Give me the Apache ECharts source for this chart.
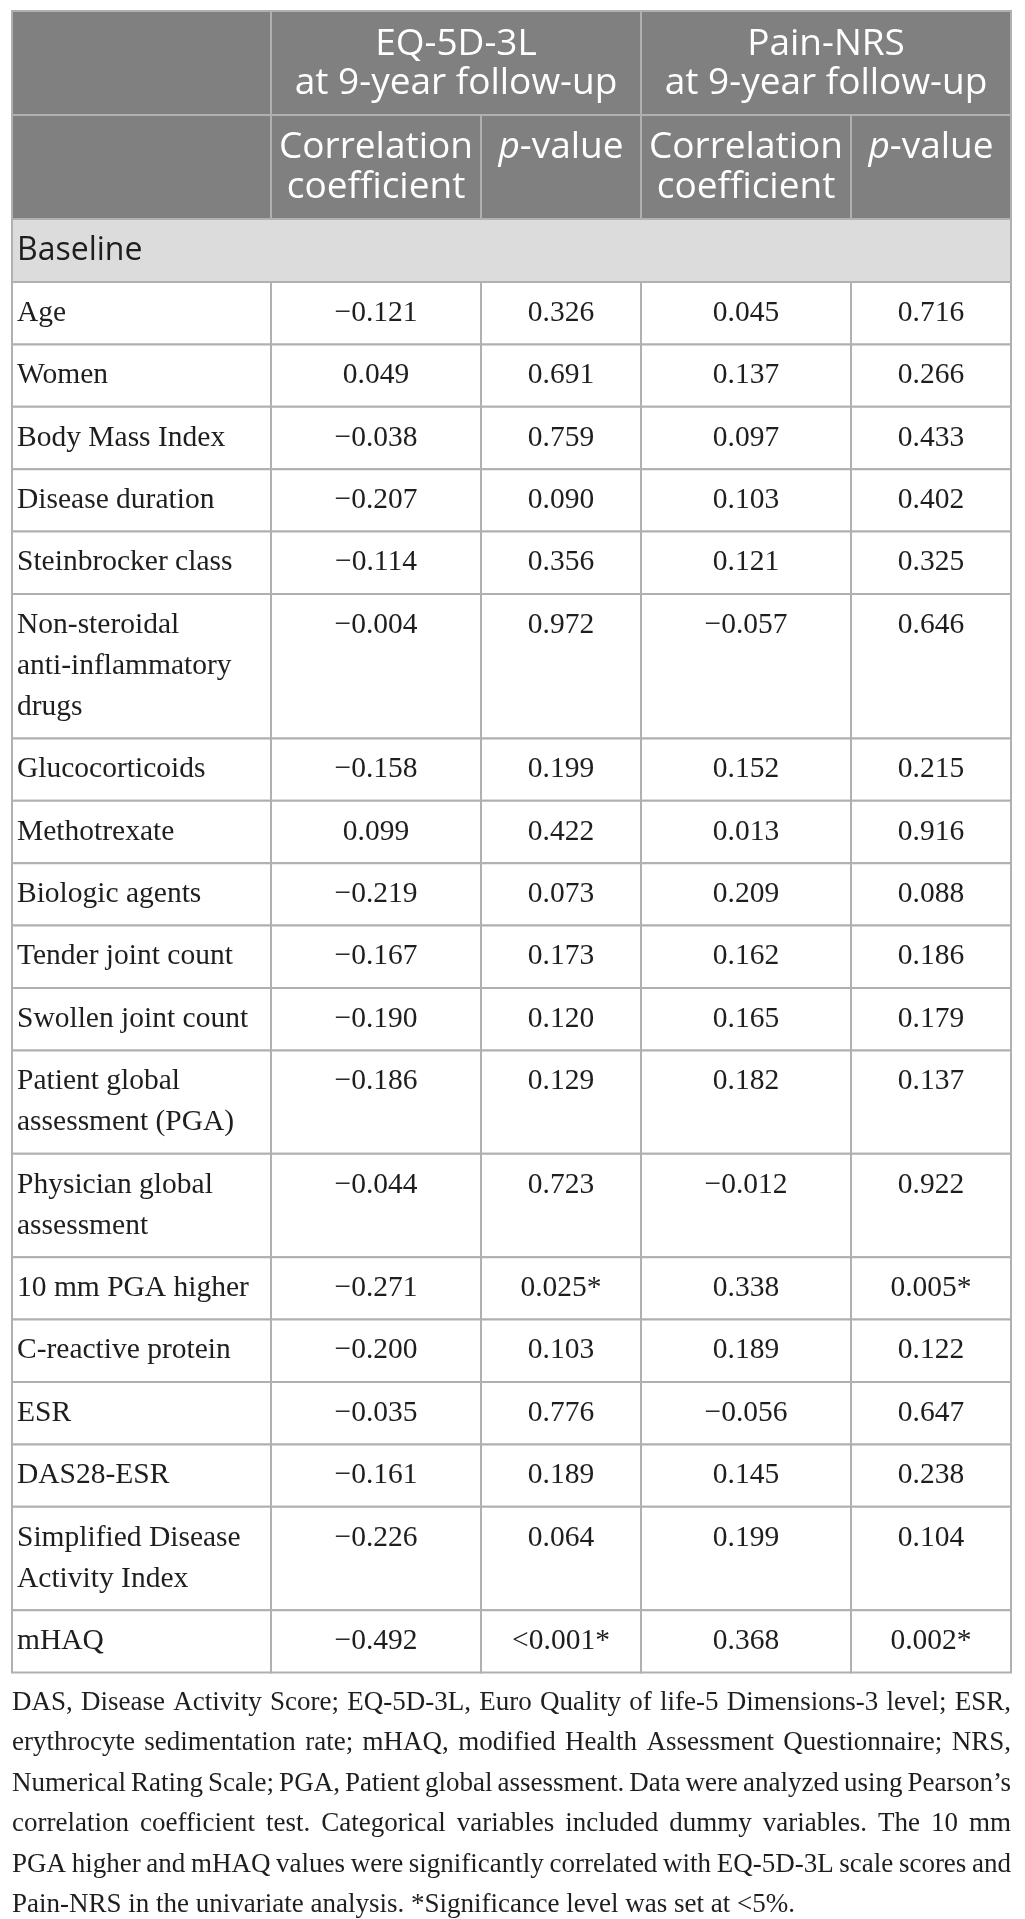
<!DOCTYPE html>
<html>
<head>
<meta charset="utf-8">
<script src="https://cdn.jsdelivr.net/npm/echarts@6/dist/echarts.min.js"></script>
<style>
  html, body { margin: 0; padding: 0; background: #fff; }
  #main { width: 1025px; height: 1919px; }
</style>
</head>
<body>
<div id="main"></div>
<script>
// 表格数据
var rowLabels = ['Age', 'Women', 'Body Mass Index', 'Disease duration', 'Steinbrocker class',
    'Non-steroidal\nanti-inflammatory\ndrugs', 'Glucocorticoids', 'Methotrexate', 'Biologic agents',
    'Tender joint count', 'Swollen joint count', 'Patient global\nassessment (PGA)',
    'Physician global\nassessment', '10 mm PGA higher', 'C-reactive protein', 'ESR', 'DAS28-ESR',
    'Simplified Disease\nActivity Index', 'mHAQ'];
var eqCoef = [-0.121, 0.049, -0.038, -0.207, -0.114, -0.004, -0.158, 0.099, -0.219, -0.167,
    -0.190, -0.186, -0.044, -0.271, -0.200, -0.035, -0.161, -0.226, -0.492];
var eqP = ['0.326', '0.691', '0.759', '0.090', '0.356', '0.972', '0.199', '0.422', '0.073', '0.173',
    '0.120', '0.129', '0.723', '0.025*', '0.103', '0.776', '0.189', '0.064', '<0.001*'];
var nrsCoef = [0.045, 0.137, 0.097, 0.103, 0.121, -0.057, 0.152, 0.013, 0.209, 0.162,
    0.165, 0.182, -0.012, 0.338, 0.189, -0.056, 0.145, 0.199, 0.368];
var nrsP = ['0.716', '0.266', '0.433', '0.402', '0.325', '0.646', '0.215', '0.916', '0.088', '0.186',
    '0.179', '0.137', '0.922', '0.005*', '0.122', '0.647', '0.238', '0.104', '0.002*'];
var groupTitles = ['EQ-5D-3L\nat 9-year follow-up', 'Pain-NRS\nat 9-year follow-up'];
var subTitles = ['Correlation\ncoefficient', '{i|p}-value'];
var sectionTitle = 'Baseline';
var footLines = [
    'DAS, Disease Activity Score; EQ-5D-3L, Euro Quality of life-5 Dimensions-3 level; ESR,',
    'erythrocyte sedimentation rate; mHAQ, modified Health Assessment Questionnaire; NRS,',
    'Numerical Rating Scale; PGA, Patient global assessment. Data were analyzed using Pearson\u2019s',
    'correlation coefficient test. Categorical variables included dummy variables. The 10 mm',
    'PGA higher and mHAQ values were significantly correlated with EQ-5D-3L scale scores and',
    'Pain-NRS in the univariate analysis. *Significance level was set at <5%.'
];

// 布局
var colEdges = [0, 259, 469, 629, 839, 999];
var HEAD_H = 104, SECT_H = 63, ROW_H = 62.4, LINE_H = 41;
var SANS = '"Open Sans", sans-serif';
var SERIF = '"Liberation Serif", "Times New Roman", serif';
var INK = '#1e1e1e';

function fmt(v) {
    return (v < 0 ? '\u2212' : '') + Math.abs(v).toFixed(3);
}

// 生成单元格
var cells = [];
function cell(x0, y0, x1, y1, text, kind) {
    cells.push({ value: [x0, y0, x1, y1], text: text, kind: kind });
}
var y = 0;
cell(colEdges[0], y, colEdges[1], y + HEAD_H, '', 'head');
cell(colEdges[1], y, colEdges[3], y + HEAD_H, groupTitles[0], 'head');
cell(colEdges[3], y, colEdges[5], y + HEAD_H, groupTitles[1], 'head');
y += HEAD_H;
cell(colEdges[0], y, colEdges[1], y + HEAD_H, '', 'sub');
for (var c = 0; c < 4; c++) {
    cell(colEdges[c + 1], y, colEdges[c + 2], y + HEAD_H, subTitles[c % 2], 'sub');
}
y += HEAD_H;
cell(colEdges[0], y, colEdges[5], y + SECT_H, sectionTitle, 'sect');
y += SECT_H;
for (var i = 0; i < rowLabels.length; i++) {
    var n = rowLabels[i].split('\n').length;
    var h = ROW_H + LINE_H * (n - 1);
    var vals = [fmt(eqCoef[i]), eqP[i], fmt(nrsCoef[i]), nrsP[i]];
    cell(colEdges[0], y, colEdges[1], y + h, rowLabels[i], 'label');
    for (var k = 0; k < 4; k++) {
        cell(colEdges[k + 1], y, colEdges[k + 2], y + h, vals[k], 'num');
    }
    y += h;
}
var tableH = y;

function renderCell(params, api) {
    var d = cells[params.dataIndex];
    var p0 = api.coord([api.value(0), api.value(1)]);
    var p1 = api.coord([api.value(2), api.value(3)]);
    var w = p1[0] - p0[0], hh = p1[1] - p0[1];
    var fill = '#fff', ts;
    if (d.kind === 'head') {
        fill = '#808080';
        ts = { text: d.text, x: p0[0] + w / 2, y: p0[1] + 14, align: 'center', verticalAlign: 'top',
            fontFamily: SANS, fontSize: 37, lineHeight: 39, fill: '#fff' };
    } else if (d.kind === 'sub') {
        fill = '#808080';
        ts = { text: d.text, x: p0[0] + w / 2, y: p0[1] + 12.5, align: 'center', verticalAlign: 'top',
            fontFamily: SANS, fontSize: 37, lineHeight: 40, fill: '#fff',
            rich: { i: { fontFamily: SANS, fontSize: 37, fontStyle: 'italic', fill: '#fff', lineHeight: 40 } } };
    } else if (d.kind === 'sect') {
        fill = '#dcdcdc';
        ts = { text: d.text, x: p0[0] + 5, y: p0[1] + hh / 2, align: 'left', verticalAlign: 'middle',
            fontFamily: SANS, fontSize: 32, fill: INK };
    } else {
        ts = { text: d.text, x: d.kind === 'label' ? p0[0] + 5 : p0[0] + w / 2, y: p0[1] + 10.5,
            align: d.kind === 'label' ? 'left' : 'center', verticalAlign: 'top',
            fontFamily: SERIF, fontSize: 29.5, lineHeight: LINE_H, fill: INK };
    }
    return {
        type: 'group',
        children: [
            { type: 'rect', shape: { x: p0[0], y: p0[1], width: w, height: hh },
              style: { fill: fill, stroke: '#b0b0b0', lineWidth: 2 } },
            { type: 'text', style: ts }
        ]
    };
}

// 脚注两端对齐
var ctx = document.createElement('canvas').getContext('2d');
var FOOT_SIZE = 27;
ctx.font = FOOT_SIZE + 'px "Liberation Serif"';
var footGraphics = [];
var footLeft = 12, footWidth = 999, footMid = 1703, footStep = 40.4;
footLines.forEach(function (line, li) {
    var words = line.split(' ');
    var widths = words.map(function (w) { return ctx.measureText(w).width; });
    var total = widths.reduce(function (a, b) { return a + b; }, 0);
    var gap = li < footLines.length - 1 ? (footWidth - total) / (words.length - 1) : ctx.measureText(' ').width;
    var x = footLeft;
    words.forEach(function (w, wi) {
        footGraphics.push({
            type: 'text', x: x, y: footMid + footStep * li,
            style: { text: w, fontFamily: SERIF, fontSize: FOOT_SIZE, fill: INK, verticalAlign: 'middle', align: 'left' }
        });
        x += widths[wi] + gap;
    });
});

var myChart = echarts.init(document.getElementById('main'));
var option = {
    animation: false,
    grid: { left: 12, top: 11, width: 999, height: tableH },
    xAxis: { type: 'value', min: 0, max: 999, show: false },
    yAxis: { type: 'value', min: 0, max: tableH, inverse: true, show: false },
    graphic: footGraphics,
    series: [{
        type: 'custom',
        clip: false,
        renderItem: renderCell,
        data: cells
    }]
};
myChart.setOption(option);
</script>
</body>
</html>
